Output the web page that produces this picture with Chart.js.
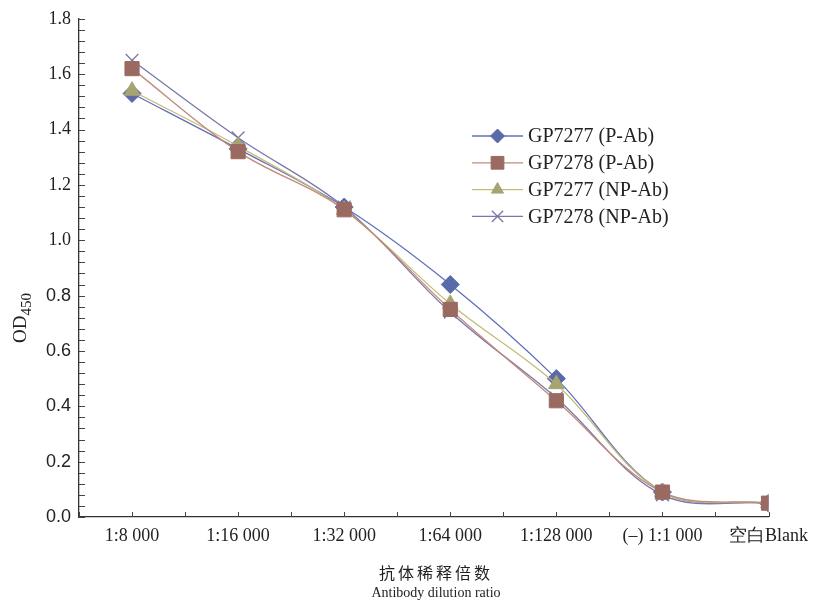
<!DOCTYPE html>
<html>
<head>
<meta charset="utf-8">
<script src="https://cdn.jsdelivr.net/npm/chart.js@4/dist/chart.umd.min.js"></script>
<style>
  html, body { margin: 0; padding: 0; background: #fff; }
  #wrap { width: 816px; height: 602px; position: relative; }
</style>
</head>
<body>
<div id="wrap"><canvas id="myChart"></canvas></div>
<script>
// dilution steps on the x axis
const categories = ['1:8 000', '1:16 000', '1:32 000', '1:64 000', '1:128 000', '(–) 1:1 000', '空白Blank'];

// OD450 readings per antibody
const gp7277P  = [1.53, 1.33, 1.12, 0.84, 0.50, 0.09, 0.05];
const gp7278P  = [1.62, 1.32, 1.11, 0.75, 0.42, 0.09, 0.05];
const gp7277NP = [1.54, 1.34, 1.11, 0.77, 0.48, 0.09, 0.05];
const gp7278NP = [1.65, 1.37, 1.12, 0.74, 0.43, 0.08, 0.05];

const seriesNames = ['GP7277 (P-Ab)', 'GP7278 (P-Ab)', 'GP7277 (NP-Ab)', 'GP7278 (NP-Ab)'];

const yTicksMajor = [0, 0.2, 0.4, 0.6, 0.8, 1.0, 1.2, 1.4, 1.6, 1.8];

const serif = '"Liberation Serif", "Times New Roman", serif';
const sans = '"Liberation Sans", Arial, sans-serif';

function toPoints(values) {
    return values.map((v, i) => ({ x: i, y: v }));
}

// small inward tick marks on both axes, like the printed figure
const inwardTicks = {
    id: 'inwardTicks',
    afterDraw(chart) {
        const { ctx, chartArea, scales } = chart;
        const x = scales.x, y = scales.y;
        ctx.save();
        ctx.strokeStyle = '#444';
        ctx.lineWidth = 1;
        ctx.beginPath();
        y.ticks.forEach(t => {
            const py = Math.round(y.getPixelForValue(t.value)) + 0.5;
            ctx.moveTo(chartArea.left, py);
            ctx.lineTo(chartArea.left + 6, py);
        });
        x.ticks.forEach(t => {
            const px = Math.round(x.getPixelForValue(t.value)) + 0.5;
            ctx.moveTo(px, chartArea.bottom);
            ctx.lineTo(px, chartArea.bottom - 5);
        });
        ctx.stroke();
        ctx.restore();
    }
};

// axis titles (OD with subscript 450, two-line x title)
const axisTitles = {
    id: 'axisTitles',
    afterDraw(chart) {
        const { ctx, chartArea } = chart;
        ctx.save();
        ctx.fillStyle = '#222';
        // y title
        ctx.translate(26, 318);
        ctx.rotate(-Math.PI / 2);
        ctx.textBaseline = 'alphabetic';
        ctx.textAlign = 'left';
        ctx.font = '19px ' + serif;
        const odW = ctx.measureText('OD').width;
        const subFont = '15px ' + serif;
        ctx.font = subFont;
        const subW = ctx.measureText('450').width;
        const start = -(odW + subW) / 2;
        ctx.font = '19px ' + serif;
        ctx.fillText('OD', start, 0);
        ctx.font = subFont;
        ctx.fillText('450', start + odW, 5);
        ctx.restore();

        // x title
        ctx.save();
        ctx.fillStyle = '#222';
        ctx.textAlign = 'center';
        ctx.textBaseline = 'middle';
        const cx = 436;
        ctx.font = '16px "Noto Sans CJK SC", sans-serif';
        ctx.letterSpacing = '3px';
        ctx.fillText('抗体稀释倍数', cx, chartArea.bottom + 56);
        ctx.letterSpacing = '0px';
        ctx.font = '14px ' + serif;
        ctx.fillText('Antibody dilution ratio', cx, chartArea.bottom + 76);
        ctx.restore();
    }
};

// legend inside the plot, line + marker + label
const insideLegend = {
    id: 'insideLegend',
    afterDraw(chart) {
        const { ctx } = chart;
        const left = 472, lineLen = 51, top = 136, rowH = 26.8;
        chart.data.datasets.forEach((ds, i) => {
            const yy = top + i * rowH;
            ctx.save();
            ctx.strokeStyle = ds.borderColor;
            ctx.lineWidth = 1.3;
            ctx.beginPath();
            ctx.moveTo(left, yy);
            ctx.lineTo(left + lineLen, yy);
            ctx.stroke();
            ctx.fillStyle = ds.pointBackgroundColor;
            ctx.strokeStyle = ds.pointBorderColor;
            ctx.lineWidth = ds.pointBorderWidth;
            Chart.helpers.drawPoint(ctx, {
                pointStyle: ds.pointStyle,
                radius: ds.legendRadius,
                rotation: 0,
                borderWidth: ds.pointBorderWidth
            }, left + lineLen / 2, yy);
            ctx.fillStyle = '#222';
            ctx.font = '20px ' + serif;
            ctx.textBaseline = 'middle';
            ctx.fillText(ds.label, left + lineLen + 5, yy + 1);
            ctx.restore();
        });
    }
};

const ctx = document.getElementById('myChart').getContext('2d');
new Chart(ctx, {
    type: 'line',
    data: {
        datasets: [
            {
                label: seriesNames[0],
                data: toPoints(gp7277P),
                borderColor: '#6070b8',
                pointBackgroundColor: '#5a6aa8',
                pointBorderColor: '#5a6aa8',
                pointStyle: 'rectRot',
                pointRadius: 9,
                legendRadius: 7,
                pointBorderWidth: 1,
                order: 3
            },
            {
                label: seriesNames[1],
                data: toPoints(gp7278P),
                borderColor: '#c08a7c',
                pointBackgroundColor: '#9a6a60',
                pointBorderColor: '#9a6a60',
                pointStyle: 'rect',
                pointRadius: 10,
                legendRadius: 9,
                pointBorderWidth: 1,
                order: 1
            },
            {
                label: seriesNames[2],
                data: toPoints(gp7277NP),
                borderColor: '#c4bc78',
                pointBackgroundColor: '#a6a470',
                pointBorderColor: '#a6a470',
                pointStyle: 'triangle',
                pointRadius: 9,
                legendRadius: 7,
                pointBorderWidth: 1,
                order: 2
            },
            {
                label: seriesNames[3],
                data: toPoints(gp7278NP),
                borderColor: '#7a78a8',
                pointBackgroundColor: '#7a78a8',
                pointBorderColor: '#7a78a8',
                pointStyle: 'crossRot',
                pointRadius: 9,
                legendRadius: 8,
                pointBorderWidth: 1.3,
                order: 4
            }
        ]
    },
    options: {
        responsive: true,
        maintainAspectRatio: false,
        animation: false,
        layout: { padding: { left: 0, right: 0, top: 10, bottom: 0 } },
        elements: {
            line: { tension: 0.35, borderWidth: 1.3, fill: false }
        },
        plugins: {
            legend: { display: false },
            tooltip: { enabled: false }
        },
        scales: {
            x: {
                type: 'linear',
                min: -0.5,
                max: categories.length - 1,
                grid: { display: false, drawTicks: false },
                border: { display: true, color: '#333', width: 1.3 },
                ticks: {
                    stepSize: 0.5,
                    autoSkip: false,
                    maxRotation: 0,
                    padding: 8,
                    color: '#222',
                    font: { family: serif, size: 18 },
                    callback: v => Number.isInteger(v) ? categories[v] : ''
                },
                afterFit: s => { s.height = 85; }
            },
            y: {
                min: 0,
                max: 1.8,
                grid: { display: false, drawTicks: false },
                border: { display: true, color: '#333', width: 1.3 },
                ticks: {
                    stepSize: 0.04,
                    autoSkip: false,
                    padding: 8,
                    color: '#222',
                    font: c => ({ family: c.tick && c.tick.value >= 0.99 ? serif : sans, size: 18 }),
                    callback: v => {
                        const m = yTicksMajor.find(t => Math.abs(t - v) < 1e-6);
                        return m === undefined ? '' : m.toFixed(1);
                    }
                },
                afterFit: s => { s.width = 79; }
            }
        }
    },
    plugins: [inwardTicks, axisTitles, insideLegend]
});
</script>
</body>
</html>
